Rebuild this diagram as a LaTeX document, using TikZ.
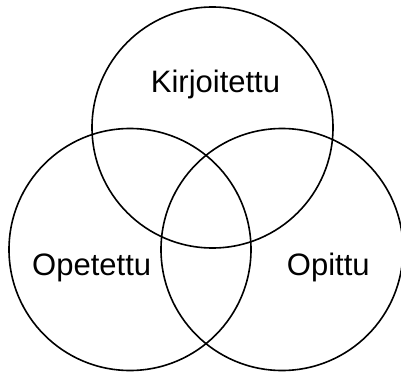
\documentclass[tikz,border=0pt]{standalone}
\usepackage{fontspec}
\setmainfont{Liberation Sans}
\begin{document}
\begin{tikzpicture}[x=1pt,y=1pt,
  venn/.style={draw=black,line width=1.6pt,circle,minimum size=#1,inner sep=0pt},
  lbl/.style={anchor=base,inner sep=0pt,font=\fontsize{31}{31}\selectfont}]
\useasboundingbox (0,0) rectangle (401,-374);
\node[venn=241pt] (top) at (212.5,-127.5) {};
\node[venn=242pt] (left) at (130,-249.5) {};
\node[venn=242pt] (right) at (282,-249.5) {};
\node[lbl] (k) at (215.5,-93) {Kirjoitettu};
\node[lbl] (o) at (91.7,-275) {Opetettu};
\node[lbl] (p) at (328.3,-275) {Opittu};
\end{tikzpicture}
\end{document}
